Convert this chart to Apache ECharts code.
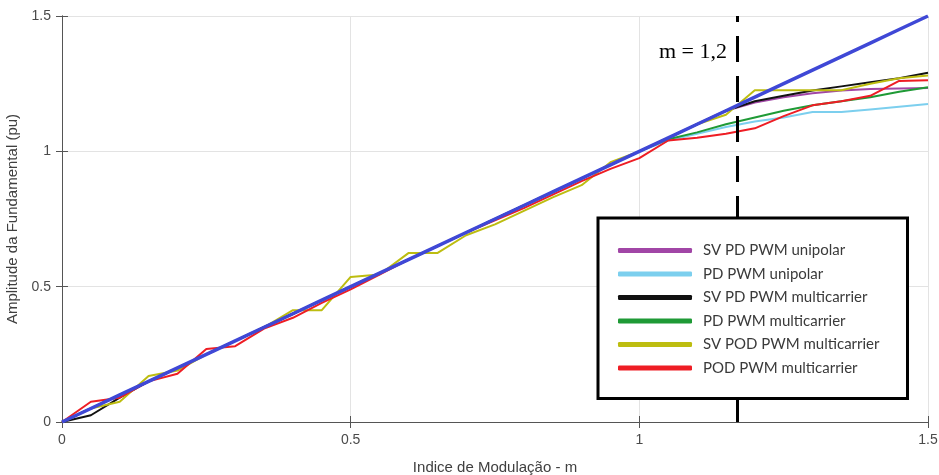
<!DOCTYPE html>
<html>
<head>
<meta charset="utf-8">
<script src="https://cdn.jsdelivr.net/npm/echarts@6/dist/echarts.min.js"></script>
<style>
  html, body { margin: 0; padding: 0; background: #fff; }
  #main { width: 939px; height: 475px; }
</style>
</head>
<body>
<div id="main"></div>
<script>
// modulation index samples
var mIndex = [0, 0.05, 0.1, 0.15, 0.2, 0.25, 0.3, 0.35, 0.4, 0.45, 0.5, 0.55, 0.6, 0.65, 0.7, 0.75,
  0.8, 0.85, 0.9, 0.95, 1.0, 1.05, 1.1, 1.15, 1.2, 1.25, 1.3, 1.35, 1.4, 1.45, 1.5];

var ideal = [0, 0.05, 0.1, 0.15, 0.2, 0.25, 0.3, 0.35, 0.4, 0.45, 0.5, 0.55, 0.6, 0.65, 0.7, 0.75,
  0.8, 0.85, 0.9, 0.95, 1.0, 1.05, 1.1, 1.15, 1.2, 1.25, 1.3, 1.35, 1.4, 1.45, 1.5];
var svPdUni = [0, 0.05, 0.1, 0.15, 0.2, 0.25, 0.3, 0.35, 0.4, 0.45, 0.5, 0.55, 0.6, 0.65, 0.7, 0.75,
  0.8, 0.85, 0.9, 0.95, 1.0, 1.05, 1.1, 1.15, 1.18, 1.2, 1.215, 1.225, 1.23, 1.232, 1.234];
var pdUni = [0, 0.05, 0.1, 0.15, 0.2, 0.25, 0.3, 0.35, 0.4, 0.45, 0.5, 0.55, 0.6, 0.65, 0.7, 0.75,
  0.8, 0.85, 0.9, 0.95, 1.0, 1.04, 1.065, 1.09, 1.11, 1.125, 1.145, 1.145, 1.155, 1.165, 1.175];
var svPdMulti = [0, 0.025, 0.09, 0.15, 0.2, 0.25, 0.3, 0.35, 0.4, 0.45, 0.5, 0.55, 0.6, 0.65, 0.7, 0.75,
  0.8, 0.85, 0.9, 0.95, 1.0, 1.05, 1.1, 1.15, 1.185, 1.205, 1.225, 1.24, 1.255, 1.27, 1.29];
var pdMulti = [0, 0.05, 0.1, 0.15, 0.2, 0.25, 0.3, 0.35, 0.4, 0.45, 0.5, 0.55, 0.6, 0.65, 0.7, 0.75,
  0.8, 0.85, 0.9, 0.95, 1.0, 1.045, 1.07, 1.1, 1.125, 1.15, 1.17, 1.185, 1.2, 1.22, 1.237];
var svPodMulti = [0, 0.05, 0.075, 0.17, 0.19, 0.25, 0.3, 0.35, 0.413, 0.413, 0.536, 0.545, 0.624, 0.624, 0.69, 0.73,
  0.78, 0.83, 0.875, 0.96, 1.0, 1.05, 1.1, 1.135, 1.226, 1.226, 1.226, 1.226, 1.25, 1.27, 1.28];
var podMulti = [0, 0.075, 0.09, 0.15, 0.178, 0.27, 0.28, 0.345, 0.385, 0.44, 0.49, 0.545, 0.6, 0.65, 0.7, 0.745,
  0.79, 0.84, 0.89, 0.935, 0.975, 1.04, 1.05, 1.065, 1.085, 1.13, 1.17, 1.185, 1.205, 1.26, 1.263];

var markerM = 1.17;
var xTicks = ['0', '0.5', '1', '1.5'];

function pairs(arr) {
  return mIndex.map(function (m, i) { return [m, arr[i]]; });
}

function line(name, arr, color, width, z) {
  return {
    name: name, type: 'line', data: pairs(arr), showSymbol: false, z: z || 2,
    lineStyle: { color: color, width: width }, itemStyle: { color: color }
  };
}

var chart = echarts.init(document.getElementById('main'));
var axisCommon = {
  min: 0, max: 1.5, interval: 0.5,
  axisLine: { show: true, lineStyle: { color: '#555', width: 1 } },
  axisTick: { show: true, inside: true, length: 6, lineStyle: { color: '#555' } }
};
var tickFont = { fontFamily: 'Arial, Liberation Sans', fontSize: 14, color: '#4a4a4a' };

chart.setOption({
  animation: false,
  grid: { left: 62, right: 11, top: 16, bottom: 53, outerBoundsMode: 'none', containLabel: false },
  xAxis: [
    Object.assign({}, axisCommon, {
      type: 'value', position: 'bottom',
      name: 'Indice de Modulação - m', nameLocation: 'middle', nameGap: 38,
      nameTextStyle: { fontFamily: 'Arial, Liberation Sans', fontSize: 15, color: '#404040' },
      axisLabel: Object.assign({ margin: 11,
        formatter: function (v) { return xTicks[Math.round(v / 0.5)]; } }, tickFont),
      splitLine: { show: true, lineStyle: { color: '#e3e3e3' } }
    }),
    Object.assign({}, axisCommon, {
      type: 'value', position: 'top', axisLabel: { show: false }, splitLine: { show: false }
    })
  ],
  yAxis: [
    Object.assign({}, axisCommon, {
      type: 'value', position: 'left',
      name: 'Amplitude da Fundamental (pu)', nameLocation: 'middle', nameGap: 36,
      nameTextStyle: { fontFamily: 'Arial, Liberation Sans', fontSize: 15, color: '#404040' },
      axisLabel: Object.assign({ margin: 11,
        formatter: function (v) { return xTicks[Math.round(v / 0.5)]; } }, tickFont),
      splitLine: { show: true, lineStyle: { color: '#e3e3e3' } }
    }),
    Object.assign({}, axisCommon, {
      type: 'value', position: 'right', axisLabel: { show: false }, splitLine: { show: false }
    })
  ],
  legend: {
    data: ['SV PD PWM unipolar', 'PD PWM unipolar', 'SV PD PWM multicarrier',
      'PD PWM multicarrier', 'SV POD PWM multicarrier', 'POD PWM multicarrier'],
    orient: 'vertical', left: 598, top: 218,
    padding: [24, 28, 22, 20], itemGap: 6.5, itemWidth: 74, itemHeight: 5,
    icon: 'roundRect', backgroundColor: '#fff', borderColor: '#000', borderWidth: 3, borderRadius: 0,
    textStyle: { fontFamily: 'Lato, Open Sans', fontSize: 15, color: '#3a3a3a', padding: [0, 0, 0, 6],
      lineHeight: 17 },
    z: 10
  },
  series: [
    line('SV PD PWM unipolar', svPdUni, '#a146a6', 2),
    line('PD PWM unipolar', pdUni, '#7ccfee', 2),
    line('SV PD PWM multicarrier', svPdMulti, '#111111', 2),
    line('PD PWM multicarrier', pdMulti, '#1f9a36', 2),
    line('SV POD PWM multicarrier', svPodMulti, '#bdbd10', 2),
    line('POD PWM multicarrier', podMulti, '#ee1d24', 2),
    Object.assign(line('ideal', ideal, '#3f48d6', 3.5, 3), {
      markLine: {
        silent: true, symbol: 'none', label: { show: false },
        lineStyle: { color: '#000', width: 3, type: [26, 14] },
        data: [{ xAxis: markerM }]
      }
    })
  ],
  graphic: [{
    type: 'text', left: 659, top: 41,
    style: { text: 'm = 1,2', font: '22px "Liberation Serif", "DejaVu Serif", serif', fill: '#000' }
  }]
});
</script>
</body>
</html>
